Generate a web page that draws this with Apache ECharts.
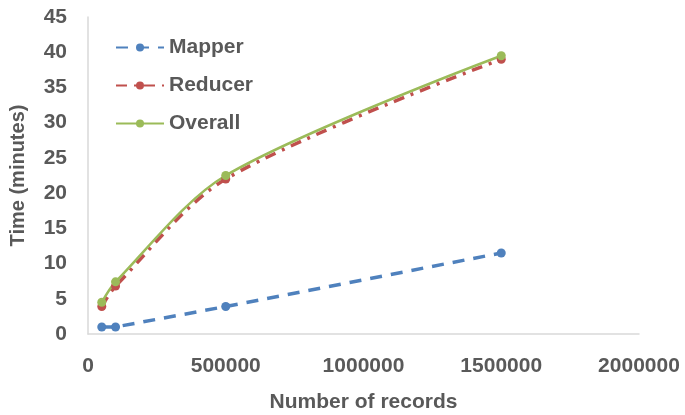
<!DOCTYPE html>
<html><head><meta charset="utf-8">
<script src="https://cdn.jsdelivr.net/npm/echarts@6/dist/echarts.min.js"></script>
<style>html,body{margin:0;padding:0;background:#fff}#c{width:685px;height:415px}</style>
</head><body><div id="c"></div>
<script>
var records = [50000, 100000, 500000, 1500000];
var mapper = [1.0, 1.0, 3.9, 11.5];
var reducer = [3.9, 6.8, 22.0, 39.0];
var overall = [4.5, 7.4, 22.5, 39.5];
var seriesNames = ['Mapper', 'Reducer', 'Overall'];
function pairs(v){ return records.map(function(x,i){ return [x, v[i]]; }); }
var txt = '#595959';
var font = 'Liberation Sans';
var chart = echarts.init(document.getElementById('c'));
chart.setOption({
  animation: false,
  grid: {left: 88, right: 46, top: 17, bottom: 81, outerBoundsMode: 'none', containLabel: false},
  legend: {
    orient: 'vertical', left: 110, top: 32, itemGap: 17, itemWidth: 48, itemHeight: 10,
    selectedMode: false,
    textStyle: {color: txt, fontSize: 21, fontWeight: 'bold', fontFamily: font},
    data: seriesNames
  },
  xAxis: {
    type: 'value', min: 0, max: 2000000, interval: 500000,
    name: 'Number of records', nameLocation: 'middle', nameGap: 58,
    nameTextStyle: {color: txt, fontSize: 21, fontWeight: 'bold', fontFamily: font},
    axisLine: {show: true, lineStyle: {color: '#d9d9d9', width: 1.5}},
    axisTick: {show: false}, splitLine: {show: false},
    axisLabel: {color: txt, fontSize: 21, fontWeight: 'bold', fontFamily: font, margin: 22,
      formatter: function(v){ return String(v); }}
  },
  yAxis: {
    type: 'value', min: 0, max: 45, interval: 5,
    name: 'Time (minutes)', nameLocation: 'middle', nameGap: 60, nameRotate: 90,
    nameTextStyle: {color: txt, fontSize: 20, fontWeight: 'bold', fontFamily: font},
    axisLine: {show: true, lineStyle: {color: '#d9d9d9', width: 1.5}},
    axisTick: {show: false}, splitLine: {show: false},
    axisLabel: {color: txt, fontSize: 21, fontWeight: 'bold', fontFamily: font, margin: 21}
  },
  series: [
    {name: seriesNames[0], type: 'line', data: pairs(mapper), symbol: 'circle', symbolSize: 9,
     itemStyle: {color: '#4F81BD'}, lineStyle: {color: '#4F81BD', width: 3.5, type: [12, 9]}},
    {name: seriesNames[1], type: 'line', data: pairs(reducer), smooth: 0.3, symbol: 'circle', symbolSize: 9,
     itemStyle: {color: '#C0504D'}, lineStyle: {color: '#C0504D', width: 3.5, type: [11, 7, 3, 7]}},
    {name: seriesNames[2], type: 'line', data: pairs(overall), smooth: 0.3, symbol: 'circle', symbolSize: 9,
     itemStyle: {color: '#9BBB59'}, lineStyle: {color: '#9BBB59', width: 2.5}}
  ]
});
</script></body></html>
